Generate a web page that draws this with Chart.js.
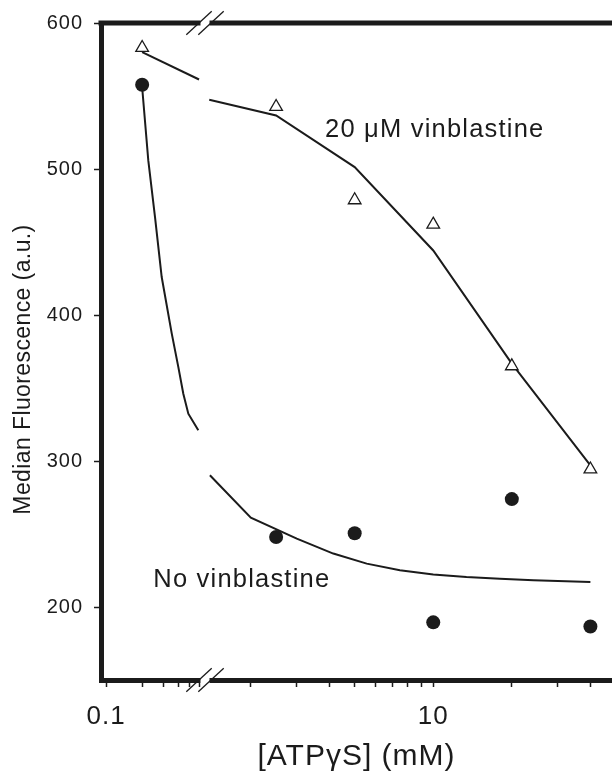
<!DOCTYPE html>
<html><head><meta charset="utf-8">
<script src="https://cdn.jsdelivr.net/npm/chart.js@4.4.1/dist/chart.umd.min.js"></script>
<style>html,body{margin:0;padding:0;background:#fff}canvas{display:block}</style>
</head><body>
<canvas id="c" width="612" height="772"></canvas>
<script>
// ---- data ----
const controlX = 0.2;                 // where the 0 mM control is plotted, left of the axis break
const atpConc = [2.5, 5, 10, 20, 40]; // mM ATPγS
const vinControl = 583;
const vinValues = [542.6, 478.7, 462, 365, 294.3];
const noVinControl = 557.7;
const noVinValues = [247.9, 250.5, 189.5, 273.9, 186.6];
const vinFitLeftX = [0.2, 0.596];
const vinFitLeftY = [580, 561.3];
const vinFitRightX = [1.386, 2.5, 5, 10, 20, 40];
const vinFitRightY = [547.4, 536.7, 501.3, 444.2, 366.7, 297];
const noVinFitLeftX = [0.2, 0.225, 0.256, 0.291, 0.353, 0.4005, 0.4406, 0.485, 0.5875];
const noVinFitLeftY = [556, 505.9, 467, 426, 387.2, 364.3, 346.1, 332.4, 321];
const noVinFitRightX = [1.394, 2, 3, 4.14, 5.56, 7.45, 10, 13.4, 18, 24.2, 40];
const noVinFitRightY = [290.2, 261.2, 246.8, 236.6, 229.7, 225.1, 222.2, 220.5, 219.4, 218.3, 217.1];
const leftTicks = [0.1, 0.2, 0.3, 0.4, 0.5, 0.6];
const rightTicks = [2, 3, 4, 5, 6, 7, 8, 9, 10, 20, 30, 40];
const labeledTicks = [0.1, 10];
const yTicks = [200, 300, 400, 500, 600];
const xTitle = '[ATPγS] (mM)';
const yTitle = 'Median Fluorescence (a.u.)';
const vinLabel = '20 μM vinblastine';
const noVinLabel = 'No vinblastine';

// ---- style ----
const FONT = "'Liberation Sans', Arial, Helvetica, sans-serif";
const INK = '#1b1b1b';

const pts = (xs, ys) => xs.map((x, i) => ({x: x, y: ys[i]}));

function xScale(min, max, weight, tickArr) {
  return {
    type: 'logarithmic', position: 'bottom', stack: 'x', stackWeight: weight,
    min: min, max: max, bounds: 'data', offset: false,
    afterBuildTicks: s => { s.ticks = tickArr.map(v => ({value: v})); },
    afterFit: s => { s.height = 62; s.paddingLeft = 0; s.paddingRight = 0; },
    grid: {display: true, drawOnChartArea: false, drawTicks: true, tickLength: 7, tickWidth: 1.5, tickColor: INK},
    border: {display: true, width: 5, color: INK},
    ticks: {autoSkip: false, maxRotation: 0, minRotation: 0, padding: 14, color: INK,
      font: {family: FONT, size: 26},
      callback: v => labeledTicks.includes(v) ? String(v) : ''}
  };
}

const markerTri = {pointStyle: 'triangle', pointRadius: 7.3, pointBorderWidth: 1.3,
  pointBackgroundColor: '#fff', pointBorderColor: INK, showLine: false, borderColor: INK};
const markerDot = {pointStyle: 'circle', pointRadius: 7, pointBorderWidth: 0,
  pointBackgroundColor: INK, pointBorderColor: INK, showLine: false, borderColor: INK};
const fitLine = {pointRadius: 0, borderWidth: 2, borderColor: INK, tension: 0, fill: false};

const decorations = {
  id: 'decorations',
  beforeDraw(chart) {
    if ('letterSpacing' in chart.ctx) chart.ctx.letterSpacing = '1px';
  },
  afterDraw(chart) {
    const ctx = chart.ctx, a = chart.chartArea, s = chart.scales;
    ctx.save();
    // top frame line
    ctx.strokeStyle = INK; ctx.lineWidth = 5;
    ctx.beginPath(); ctx.moveTo(a.left - 2.5, a.top); ctx.lineTo(a.right, a.top); ctx.stroke();
    // axis breaks (top and bottom)
    const bx = s.xL.right;
    [a.top, a.bottom].forEach(yy => {
      ctx.fillStyle = '#fff';
      ctx.fillRect(bx - 4.5, yy - 3.5, 9, 7);
      ctx.strokeStyle = INK; ctx.lineWidth = 1.3;
      [-6, 6].forEach(dx => {
        ctx.beginPath();
        ctx.moveTo(bx + dx - 12.7, yy + 11.7);
        ctx.lineTo(bx + dx + 12.7, yy - 11.7);
        ctx.stroke();
      });
    });
    // series annotations
    ctx.fillStyle = INK;
    if ('letterSpacing' in ctx) ctx.letterSpacing = '1.2px';
    ctx.font = '25.5px ' + FONT;
    ctx.textAlign = 'left'; ctx.textBaseline = 'alphabetic';
    ctx.fillText(vinLabel, s.xR.getPixelForValue(3.85), s.y.getPixelForValue(521.6));
    ctx.fillText(noVinLabel, s.xL.getPixelForValue(0.2477), s.y.getPixelForValue(213.7));
    // y axis title
    if ('letterSpacing' in ctx) ctx.letterSpacing = '0.4px';
    ctx.font = '23px ' + FONT;
    ctx.translate(a.left - 77.5, (s.y.getPixelForValue(600) + s.y.getPixelForValue(150)) / 2 + 18);
    ctx.rotate(-Math.PI / 2);
    ctx.textAlign = 'center'; ctx.textBaseline = 'middle';
    ctx.fillText(yTitle, 0, 0);
    ctx.restore();
  }
};

new Chart(document.getElementById('c'), {
  type: 'line',
  data: {
    datasets: [
      Object.assign({label: 'vin ctrl', xAxisID: 'xL', data: [{x: controlX, y: vinControl}]}, markerTri),
      Object.assign({label: 'vin', xAxisID: 'xR', data: pts(atpConc, vinValues)}, markerTri),
      Object.assign({label: 'novin ctrl', xAxisID: 'xL', data: [{x: controlX, y: noVinControl}]}, markerDot),
      Object.assign({label: 'novin', xAxisID: 'xR', data: pts(atpConc, noVinValues)}, markerDot),
      Object.assign({label: 'vin fit L', xAxisID: 'xL', data: pts(vinFitLeftX, vinFitLeftY)}, fitLine),
      Object.assign({label: 'vin fit R', xAxisID: 'xR', data: pts(vinFitRightX, vinFitRightY)}, fitLine),
      Object.assign({label: 'novin fit L', xAxisID: 'xL', data: pts(noVinFitLeftX, noVinFitLeftY)}, fitLine),
      Object.assign({label: 'novin fit R', xAxisID: 'xR', data: pts(noVinFitRightX, noVinFitRightY)}, fitLine)
    ]
  },
  options: {
    responsive: false, animation: false, devicePixelRatio: 1,
    layout: {autoPadding: false, padding: {top: 22.5, left: 0, right: 0, bottom: 0}},
    scales: {
      xL: xScale(0.0908, 0.668, 104, leftTicks),
      xR: xScale(1.335, 48.4, 407, rightTicks),
      y: {
        type: 'linear', position: 'left', min: 150, max: 600,
        afterBuildTicks: s => { s.ticks = yTicks.map(v => ({value: v})); },
        afterFit: s => { s.width = 101; },
        grid: {display: true, drawOnChartArea: false, tickLength: 7, tickWidth: 1.5, tickColor: INK},
        border: {display: true, width: 5, color: INK},
        ticks: {padding: 11, color: INK, font: {family: FONT, size: 20}, callback: v => String(v)}
      }
    },
    plugins: {
      legend: {display: false},
      tooltip: {enabled: false},
      title: {display: true, position: 'bottom', fullSize: false, text: xTitle, color: INK,
        font: {family: FONT, size: 30, weight: 'normal', lineHeight: 1}, padding: 0}
    }
  },
  plugins: [decorations]
});
</script>
</body></html>
